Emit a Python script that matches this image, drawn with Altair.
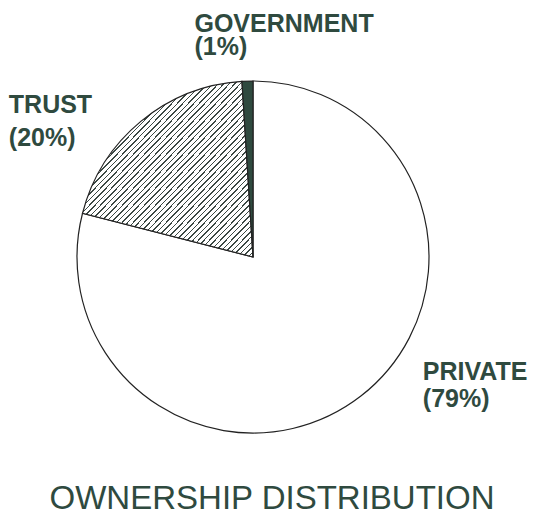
import altair as alt
import pandas as pd

# ---- data ----
owners = ["PRIVATE", "TRUST", "GOVERNMENT"]
shares = [79, 20, 1]
labels = ["PRIVATE\n(79%)", "TRUST\n(20%)", "GOVERNMENT\n(1%)"]
title_text = "OWNERSHIP DISTRIBUTION"

df = pd.DataFrame({"owner": owners, "share": shares, "label": labels, "order": [0, 1, 2]})
tdf = pd.DataFrame({"t": [title_text]})

INK = "#2f4a3f"
HATCH = "#3b4843"
FONT = "Liberation Sans"
R = 176

# diagonal hatch built as a striped linear gradient
N = 62
w = 0.27
stops = []
for i in range(N):
    a = i / N
    b = (i + w) / N
    stops += [
        alt.GradientStop(offset=a, color="white"),
        alt.GradientStop(offset=a, color=HATCH),
        alt.GradientStop(offset=b, color=HATCH),
        alt.GradientStop(offset=b, color="white"),
    ]
stops.append(alt.GradientStop(offset=1, color="white"))
hatch = alt.LinearGradient(gradient="linear", stops=stops, x1=0, y1=0, x2=1, y2=1)

theta_scale = alt.Scale(domain=[0, 100], range=[0, 6.283185307179586])

base = alt.Chart(df).transform_window(
    cum="sum(share)", sort=[alt.SortField("order")], frame=[None, 0]
).transform_calculate(
    start="datum.cum - datum.share", mid="datum.cum - datum.share / 2"
)

def slice_layer(name, fill):
    return base.transform_filter(alt.datum.owner == name).mark_arc(
        radius=R, fill=fill, stroke="#222222", strokeWidth=1.2
    ).encode(
        theta=alt.Theta("start:Q", scale=theta_scale),
        theta2="cum:Q",
    )

def label_layer(name, dx, dy, lh):
    return base.transform_filter(alt.datum.owner == name).mark_text(
        radius=R, align="left", baseline="alphabetic", font=FONT, fontSize=25,
        fontWeight="bold", color=INK, lineBreak="\n", lineHeight=lh, dx=dx, dy=dy,
    ).encode(
        theta=alt.Theta("mid:Q", scale=theta_scale),
        text="label:N",
    )

title = alt.Chart(tdf).mark_text(
    font=FONT, fontSize=33, fontWeight="normal", color=INK, align="center", baseline="alphabetic"
).encode(x=alt.value(272), y=alt.value(509), text="t:N")

chart = alt.layer(
    slice_layer("PRIVATE", "white"),
    slice_layer("TRUST", hatch),
    slice_layer("GOVERNMENT", INK),
    label_layer("GOVERNMENT", -53, -49, 23),
    label_layer("TRUST", -132, -8, 33),
    label_layer("PRIVATE", 62, -16, 27),
    title,
).properties(
    width=506, height=514,
    background="white",
    autosize=alt.AutoSizeParams(type="none"),
    padding={"left": 0, "top": 0, "right": 32, "bottom": 1},
).configure_view(strokeWidth=0, stroke="transparent")

chart.save("out.html", embed_options={"renderer": "svg", "actions": False})
